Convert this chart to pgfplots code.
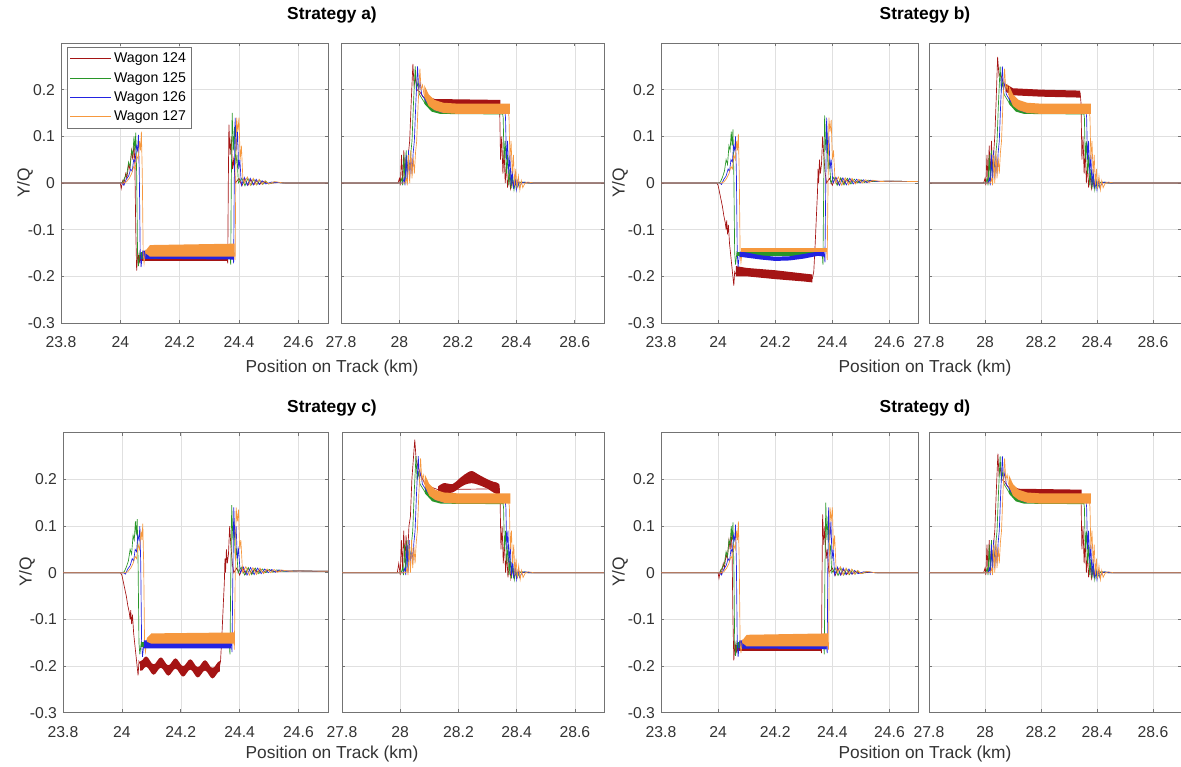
\documentclass[border=0pt]{standalone}
\usepackage{fontspec}
\setmainfont{Liberation Sans}
\usepackage{pgfplots}
\pgfplotsset{compat=1.18}
\definecolor{c124}{RGB}{165,20,20}
\definecolor{c125}{RGB}{40,150,40}
\definecolor{c126}{RGB}{35,35,225}
\definecolor{c127}{RGB}{246,152,62}
\pgfplotsset{
  base/.style={scale only axis, height=210pt, ymin=-0.3, ymax=0.3,
    ytick={-0.3,-0.2,-0.1,0,0.1,0.2},
    grid=major, major grid style={line width=0.4pt, black!12},
    axis line style={line width=0.6pt, black!55},
    tick style={black!55, line width=0.5pt},
    tick align=inside, major tick length=2.5pt,
    ticklabel style={font=\fontsize{11.8}{13}\selectfont, text=black!80},
    xticklabel style={yshift=-6.5pt},
    yticklabel style={xshift=-1pt},
    /pgf/number format/assume math mode=true,
    every axis plot/.append style={line width=0.5pt, forget plot},
  },
  leftp/.style={base, xmin=23.8, xmax=24.7, xtick={23.8,24,24.2,24.4,24.6}},
  rightp/.style={base, xmin=27.8, xmax=28.7, xtick={27.8,28,28.2,28.4,28.6}, yticklabels={}},
}
% ---------- left panel lines, strategies a and d ----------
\newcommand{\LeftRedA}{%
\addplot[c124] coordinates {(23.8,0)(24.0,0)(24.003,-0.012)(24.008,0.005)(24.012,-0.002)(24.018,0.02)(24.022,0.01)(24.028,0.04)(24.032,0.03)(24.038,0.07)(24.042,0.05)(24.046,0.085)(24.049,0.04)(24.052,-0.1)(24.055,-0.188)(24.059,-0.15)(24.064,-0.17)(24.07,-0.16)(24.36,-0.162)(24.362,-0.172)(24.364,0.0)(24.366,0.125)(24.37,0.06)(24.374,0.1)(24.378,0.03)(24.382,0.05)(24.388,0.0)(24.4,0.01)(24.41,-0.006)(24.42,0.009)(24.43,-0.005)(24.44,0.007)(24.45,-0.004)(24.46,0.005)(24.47,-0.003)(24.48,0.003)(24.5,-0.001)(24.53,0.001)(24.56,0)(24.7,0)};
\addplot[fill=c124, draw=none] coordinates {(24.06,-0.155)(24.36,-0.155)(24.36,-0.168)(24.06,-0.168)} -- cycle;
}
\newcommand{\LeftOthersA}{%
\addplot[c125] coordinates {(23.8,0)(24.0,0)(24.008,0.002)(24.015,0.012)(24.022,0.02)(24.028,0.045)(24.033,0.035)(24.038,0.07)(24.042,0.06)(24.046,0.1)(24.049,0.07)(24.052,0.108)(24.055,0.02)(24.058,-0.15)(24.061,-0.178)(24.066,-0.148)(24.072,-0.16)(24.37,-0.158)(24.372,-0.175)(24.374,0.0)(24.377,0.15)(24.381,0.07)(24.385,0.12)(24.389,0.04)(24.393,0.06)(24.398,0.0)(24.41,0.01)(24.42,-0.006)(24.43,0.01)(24.44,-0.005)(24.45,0.008)(24.46,-0.004)(24.47,0.006)(24.48,-0.003)(24.49,0.004)(24.5,-0.002)(24.52,0.002)(24.55,0)(24.7,0)};
\addplot[fill=c125, draw=none] coordinates {(24.068,-0.148)(24.37,-0.148)(24.37,-0.162)(24.068,-0.162)} -- cycle;
\addplot[c126] coordinates {(23.8,0)(24.005,0)(24.012,-0.005)(24.02,0.008)(24.028,0.015)(24.035,0.03)(24.04,0.025)(24.045,0.05)(24.05,0.045)(24.054,0.08)(24.058,0.07)(24.061,0.103)(24.064,0.02)(24.067,-0.15)(24.07,-0.18)(24.075,-0.148)(24.082,-0.162)(24.38,-0.158)(24.382,-0.172)(24.384,0.0)(24.387,0.14)(24.391,0.07)(24.395,0.11)(24.399,0.03)(24.403,0.05)(24.408,-0.005)(24.418,0.012)(24.428,-0.005)(24.438,0.01)(24.448,-0.004)(24.458,0.008)(24.468,-0.003)(24.478,0.005)(24.49,-0.002)(24.51,0.002)(24.55,0)(24.7,0)};
\addplot[fill=c126, draw=none] coordinates {(24.075,-0.145)(24.38,-0.15)(24.38,-0.164)(24.075,-0.162)} -- cycle;
\addplot[c127] coordinates {(23.8,0)(24.01,0)(24.02,0.002)(24.03,0.01)(24.038,0.02)(24.045,0.035)(24.05,0.03)(24.055,0.06)(24.06,0.05)(24.065,0.09)(24.068,0.07)(24.071,0.11)(24.074,0.02)(24.077,-0.15)(24.08,-0.172)(24.085,-0.145)(24.09,-0.152)(24.385,-0.15)(24.387,-0.165)(24.389,0.0)(24.392,0.14)(24.396,0.11)(24.4,0.14)(24.404,0.05)(24.408,0.08)(24.413,0.01)(24.418,0.0)(24.428,0.013)(24.438,-0.005)(24.448,0.01)(24.458,-0.004)(24.468,0.008)(24.478,-0.003)(24.488,0.005)(24.5,-0.002)(24.52,0.003)(24.55,0)(24.7,0)};
\addplot[fill=c127, draw=none] coordinates {(24.085,-0.145)(24.1,-0.133)(24.385,-0.13)(24.385,-0.158)(24.1,-0.158)(24.085,-0.15)} -- cycle;
}
% ---------- left panel lines, strategies b and c ----------
\newcommand{\LeftRedB}{%
\addplot[c124] coordinates {(23.8,0)(23.995,0)(24.0,-0.005)(24.005,-0.02)(24.01,-0.035)(24.015,-0.05)(24.02,-0.07)(24.025,-0.085)(24.028,-0.1)(24.03,-0.08)(24.033,-0.11)(24.036,-0.09)(24.04,-0.13)(24.045,-0.16)(24.05,-0.19)(24.055,-0.22)(24.058,-0.19)(24.062,-0.195)(24.33,-0.205)(24.335,-0.19)(24.34,-0.13)(24.345,-0.06)(24.348,-0.02)(24.35,0.03)(24.352,0.0)(24.355,0.05)(24.358,0.02)(24.362,0.04)(24.366,0.1)(24.37,0.06)(24.375,0.02)(24.38,0.0)(24.39,0.01)(24.4,-0.005)(24.41,0.012)(24.42,-0.003)(24.43,0.01)(24.44,-0.002)(24.45,0.008)(24.46,0.0)(24.47,0.007)(24.48,0.001)(24.5,0.006)(24.52,0.002)(24.55,0.004)(24.7,0.003)};
}
\newcommand{\LeftOthersBLines}{%
\addplot[c125] coordinates {(23.8,0)(24.0,0)(24.008,0.002)(24.015,0.012)(24.022,0.025)(24.028,0.05)(24.033,0.04)(24.038,0.08)(24.042,0.07)(24.046,0.11)(24.049,0.08)(24.052,0.115)(24.055,0.02)(24.058,-0.15)(24.061,-0.175)(24.066,-0.148)(24.072,-0.155)(24.365,-0.153)(24.367,-0.175)(24.37,0.0)(24.373,0.145)(24.377,0.07)(24.381,0.11)(24.385,0.03)(24.389,0.05)(24.395,0.0)(24.405,0.012)(24.417,-0.005)(24.429,0.011)(24.441,-0.004)(24.453,0.01)(24.465,-0.002)(24.477,0.008)(24.489,0.0)(24.501,0.007)(24.513,0.001)(24.525,0.006)(24.55,0.003)(24.6,0.004)(24.7,0.003)};
\addplot[c126] coordinates {(23.8,0)(24.005,0)(24.012,-0.003)(24.02,0.008)(24.028,0.015)(24.035,0.03)(24.04,0.025)(24.045,0.05)(24.05,0.045)(24.054,0.08)(24.058,0.07)(24.061,0.1)(24.064,0.02)(24.067,-0.15)(24.07,-0.18)(24.075,-0.15)(24.08,-0.155)(24.372,-0.152)(24.374,-0.17)(24.377,0.0)(24.38,0.14)(24.384,0.07)(24.388,0.1)(24.392,0.03)(24.396,0.05)(24.402,0.0)(24.413,0.012)(24.425,-0.005)(24.437,0.011)(24.449,-0.004)(24.461,0.01)(24.473,-0.002)(24.485,0.008)(24.497,0.0)(24.509,0.007)(24.521,0.001)(24.533,0.006)(24.56,0.003)(24.6,0.004)(24.7,0.003)};
\addplot[c127] coordinates {(23.8,0)(24.01,0)(24.02,0.002)(24.03,0.01)(24.038,0.02)(24.045,0.035)(24.05,0.03)(24.055,0.06)(24.06,0.05)(24.065,0.09)(24.068,0.07)(24.071,0.105)(24.074,0.02)(24.077,-0.15)(24.08,-0.17)(24.085,-0.143)(24.09,-0.145)(24.38,-0.145)(24.382,-0.165)(24.385,0.0)(24.388,0.14)(24.392,0.11)(24.396,0.135)(24.4,0.05)(24.404,0.07)(24.41,0.0)(24.421,0.013)(24.433,-0.005)(24.445,0.011)(24.457,-0.004)(24.469,0.01)(24.481,-0.002)(24.493,0.008)(24.505,0.0)(24.517,0.007)(24.529,0.001)(24.541,0.006)(24.57,0.003)(24.6,0.004)(24.7,0.003)};
}
% ---------- right panel lines (shared) ----------
\newcommand{\RightOthers}{%
\addplot[c125] coordinates {(27.8,0)(28.003,0)(28.008,0.01)(28.011,-0.005)(28.015,0.06)(28.019,0.0)(28.023,0.07)(28.027,0.01)(28.031,0.055)(28.035,0.02)(28.039,0.065)(28.043,0.09)(28.048,0.17)(28.054,0.25)(28.058,0.2)(28.063,0.215)(28.068,0.19)(28.078,0.18)(28.09,0.168)(28.11,0.16)(28.14,0.155)(28.352,0.153)(28.355,0.14)(28.358,0.05)(28.362,0.09)(28.366,0.02)(28.37,0.06)(28.374,-0.005)(28.378,0.03)(28.382,-0.012)(28.387,0.015)(28.392,-0.015)(28.397,0.005)(28.402,-0.01)(28.41,0.0)(28.42,0.002)(28.44,0)(28.7,0)};
\addplot[fill=c125, draw=none] coordinates {(28.085,0.185)(28.11,0.165)(28.14,0.158)(28.355,0.158)(28.355,0.147)(28.14,0.148)(28.11,0.153)(28.085,0.17)} -- cycle;
\addplot[c126] coordinates {(27.8,0)(28.011,0)(28.016,0.01)(28.019,-0.005)(28.023,0.06)(28.027,0.0)(28.031,0.07)(28.035,0.01)(28.039,0.055)(28.043,0.02)(28.047,0.065)(28.051,0.09)(28.056,0.17)(28.062,0.25)(28.066,0.2)(28.071,0.215)(28.076,0.19)(28.086,0.18)(28.098,0.17)(28.12,0.162)(28.15,0.158)(28.36,0.157)(28.363,0.14)(28.366,0.05)(28.37,0.09)(28.374,0.02)(28.378,0.06)(28.382,-0.005)(28.386,0.03)(28.39,-0.012)(28.395,0.015)(28.4,-0.015)(28.405,0.005)(28.41,-0.01)(28.418,0.0)(28.428,0.002)(28.45,0)(28.7,0)};
\addplot[fill=c126, draw=none] coordinates {(28.09,0.195)(28.12,0.17)(28.15,0.163)(28.365,0.162)(28.365,0.15)(28.15,0.15)(28.12,0.156)(28.09,0.175)} -- cycle;
\addplot[c127] coordinates {(27.8,0)(28.019,0)(28.024,0.01)(28.027,-0.005)(28.031,0.06)(28.035,0.0)(28.039,0.07)(28.043,0.01)(28.047,0.055)(28.051,0.02)(28.055,0.065)(28.059,0.09)(28.064,0.17)(28.07,0.245)(28.074,0.2)(28.079,0.21)(28.084,0.19)(28.094,0.18)(28.106,0.172)(28.13,0.165)(28.16,0.16)(28.372,0.158)(28.375,0.14)(28.378,0.05)(28.382,0.09)(28.386,0.02)(28.39,0.06)(28.394,-0.005)(28.398,0.03)(28.402,-0.012)(28.407,0.015)(28.412,-0.015)(28.417,0.005)(28.422,-0.01)(28.43,0.0)(28.44,0.002)(28.46,0)(28.7,0)};
\addplot[fill=c127, draw=none] coordinates {(28.085,0.21)(28.1,0.19)(28.12,0.178)(28.15,0.172)(28.2,0.17)(28.378,0.17)(28.378,0.148)(28.2,0.148)(28.15,0.15)(28.12,0.156)(28.1,0.165)(28.085,0.185)} -- cycle;
}
\newcommand{\RightRedA}{%
\addplot[c124] coordinates {(27.8,0)(27.995,0)(28.0,0.01)(28.003,-0.005)(28.007,0.06)(28.011,0.0)(28.015,0.07)(28.019,0.01)(28.023,0.055)(28.027,0.02)(28.031,0.065)(28.035,0.09)(28.04,0.17)(28.046,0.255)(28.05,0.21)(28.055,0.225)(28.06,0.2)(28.07,0.195)(28.08,0.185)(28.1,0.18)(28.13,0.176)(28.34,0.175)(28.343,0.16)(28.346,0.05)(28.35,0.1)(28.354,0.02)(28.358,0.07)(28.362,0.0)(28.366,0.04)(28.37,-0.01)(28.375,0.02)(28.38,-0.012)(28.385,0.008)(28.39,-0.01)(28.4,0.0)(28.41,0.002)(28.43,0)(28.7,0)};
\addplot[fill=c124, draw=none] coordinates {(28.09,0.188)(28.12,0.18)(28.345,0.178)(28.345,0.166)(28.12,0.168)(28.09,0.176)} -- cycle;
}
\begin{document}
\begin{tikzpicture}
\useasboundingbox (0,0) rectangle (885.75pt,575.25pt);
% ===== Strategy a =====
\begin{axis}[leftp, width=200.25pt, at={(45.75pt,333pt)}, anchor=south west,
  legend style={at={(0,1)}, anchor=north west, xshift=4.2pt, yshift=-3.2pt, draw=black!55, fill=white,
    font=\fontsize{10.6}{12}\selectfont, inner sep=2pt, row sep=1.6pt, cells={anchor=west}},
  legend image code/.code={\draw[#1, line width=0.7pt] (0pt,0pt) -- (30.75pt,0pt);}]
\LeftRedA
\LeftOthersA
\addlegendimage{c124}\addlegendentry{Wagon 124}
\addlegendimage{c125}\addlegendentry{Wagon 125}
\addlegendimage{c126}\addlegendentry{Wagon 126}
\addlegendimage{c127}\addlegendentry{Wagon 127}
\end{axis}
\begin{axis}[rightp, width=197.25pt, at={(255.75pt,333pt)}, anchor=south west]
\RightRedA
\RightOthers
\end{axis}
% ===== Strategy b =====
\begin{axis}[leftp, width=192.75pt, at={(495.75pt,333pt)}, anchor=south west]
\LeftRedB
\addplot[fill=c124, draw=none] coordinates {(24.062,-0.178)(24.1,-0.182)(24.2,-0.187)(24.3,-0.194)(24.33,-0.196)(24.33,-0.213)(24.3,-0.211)(24.2,-0.206)(24.1,-0.2)(24.062,-0.2)} -- cycle;
\LeftOthersBLines
\addplot[fill=c125, draw=none] coordinates {(24.065,-0.148)(24.365,-0.148)(24.365,-0.156)(24.065,-0.156)} -- cycle;
\addplot[fill=c126, draw=none] coordinates {(24.075,-0.147)(24.1,-0.149)(24.15,-0.155)(24.2,-0.158)(24.25,-0.157)(24.3,-0.152)(24.35,-0.147)(24.372,-0.148)(24.372,-0.158)(24.35,-0.156)(24.3,-0.162)(24.25,-0.166)(24.2,-0.167)(24.15,-0.164)(24.1,-0.16)(24.075,-0.158)} -- cycle;
\addplot[fill=c127, draw=none] coordinates {(24.08,-0.14)(24.38,-0.14)(24.38,-0.148)(24.08,-0.148)} -- cycle;
\end{axis}
\begin{axis}[rightp, width=189pt, at={(696.75pt,333pt)}, anchor=south west]
\addplot[c124] coordinates {(27.8,0)(27.995,0)(28.0,0.01)(28.003,-0.005)(28.007,0.06)(28.011,0.0)(28.015,0.08)(28.019,0.01)(28.023,0.09)(28.027,0.02)(28.031,0.065)(28.035,0.1)(28.04,0.18)(28.045,0.27)(28.05,0.23)(28.055,0.235)(28.065,0.215)(28.08,0.2)(28.34,0.193)(28.343,0.17)(28.346,0.05)(28.35,0.1)(28.354,0.02)(28.358,0.07)(28.362,0.0)(28.366,0.04)(28.37,-0.01)(28.375,0.02)(28.38,-0.012)(28.385,0.008)(28.39,-0.01)(28.4,0.0)(28.41,0.002)(28.43,0)(28.7,0)};
\addplot[fill=c124, draw=none] coordinates {(28.075,0.212)(28.1,0.203)(28.2,0.2)(28.34,0.198)(28.34,0.183)(28.2,0.185)(28.1,0.188)(28.075,0.195)} -- cycle;
\RightOthers
\end{axis}
% ===== Strategy c =====
\begin{axis}[leftp, width=198.75pt, at={(47.25pt,40.7pt)}, anchor=south west]
\LeftRedB
\addplot[fill=c124, draw=none] coordinates {(24.062,-0.19)(24.07,-0.187)(24.07625,-0.1816)(24.0825,-0.1795)(24.08875,-0.1821)(24.095,-0.188)(24.10125,-0.1939)(24.1075,-0.1965)(24.11375,-0.1944)(24.12,-0.189)(24.12625,-0.1836)(24.1325,-0.1815)(24.13875,-0.1841)(24.145,-0.19)(24.15125,-0.1959)(24.1575,-0.1985)(24.16375,-0.1964)(24.17,-0.191)(24.17625,-0.1856)(24.1825,-0.1835)(24.18875,-0.1861)(24.195,-0.192)(24.20125,-0.1979)(24.2075,-0.2005)(24.21375,-0.1984)(24.22,-0.193)(24.22625,-0.1876)(24.2325,-0.1855)(24.23875,-0.1881)(24.245,-0.194)(24.25125,-0.1999)(24.2575,-0.2025)(24.26375,-0.2004)(24.27,-0.195)(24.27625,-0.1896)(24.2825,-0.1875)(24.28875,-0.1901)(24.295,-0.196)(24.30125,-0.2019)(24.3075,-0.2045)(24.31375,-0.2024)(24.32,-0.197)(24.32625,-0.1916)(24.3325,-0.1895)(24.3325,-0.2115)(24.32625,-0.2136)(24.32,-0.219)(24.31375,-0.2244)(24.3075,-0.2265)(24.30125,-0.2239)(24.295,-0.218)(24.28875,-0.2121)(24.2825,-0.2095)(24.27625,-0.2116)(24.27,-0.217)(24.26375,-0.2224)(24.2575,-0.2245)(24.25125,-0.2219)(24.245,-0.216)(24.23875,-0.2101)(24.2325,-0.2075)(24.22625,-0.2096)(24.22,-0.215)(24.21375,-0.2204)(24.2075,-0.2225)(24.20125,-0.2199)(24.195,-0.214)(24.18875,-0.2081)(24.1825,-0.2055)(24.17625,-0.2076)(24.17,-0.213)(24.16375,-0.2184)(24.1575,-0.2205)(24.15125,-0.2179)(24.145,-0.212)(24.13875,-0.2061)(24.1325,-0.2035)(24.12625,-0.2056)(24.12,-0.211)(24.11375,-0.2164)(24.1075,-0.2185)(24.10125,-0.2159)(24.095,-0.21)(24.08875,-0.2041)(24.0825,-0.2015)(24.07625,-0.2036)(24.07,-0.209)(24.062,-0.21)} -- cycle;
\LeftOthersBLines
\addplot[fill=c125, draw=none] coordinates {(24.065,-0.148)(24.365,-0.148)(24.365,-0.16)(24.065,-0.16)} -- cycle;
\addplot[fill=c126, draw=none] coordinates {(24.075,-0.145)(24.372,-0.148)(24.372,-0.162)(24.075,-0.162)} -- cycle;
\addplot[fill=c127, draw=none] coordinates {(24.085,-0.14)(24.1,-0.13)(24.38,-0.128)(24.38,-0.152)(24.1,-0.152)(24.085,-0.148)} -- cycle;
\end{axis}
\begin{axis}[rightp, width=196.5pt, at={(256.5pt,40.7pt)}, anchor=south west]
\addplot[c124] coordinates {(27.8,0)(27.99,0)(27.995,0.02)(28.0,-0.005)(28.004,0.07)(28.008,0.01)(28.012,0.09)(28.016,0.02)(28.02,0.08)(28.025,0.03)(28.03,0.1)(28.035,0.12)(28.04,0.2)(28.05,0.285)(28.055,0.24)(28.06,0.23)(28.07,0.21)(28.085,0.19)(28.1,0.185)(28.13,0.178)(28.34,0.18)(28.343,0.16)(28.346,0.05)(28.35,0.1)(28.354,0.02)(28.358,0.07)(28.362,0.0)(28.366,0.04)(28.37,-0.01)(28.375,0.02)(28.38,-0.012)(28.385,0.008)(28.39,-0.01)(28.4,0.0)(28.41,0.002)(28.43,0)(28.7,0)};
\addplot[fill=c124, draw=none, smooth, tension=0.5] coordinates {(28.13,0.185)(28.15,0.192)(28.18,0.19)(28.2,0.2)(28.22,0.21)(28.245,0.218)(28.27,0.21)(28.3,0.2)(28.32,0.195)(28.34,0.19)(28.34,0.168)(28.32,0.172)(28.3,0.18)(28.27,0.188)(28.245,0.192)(28.22,0.188)(28.2,0.18)(28.18,0.172)(28.15,0.17)(28.13,0.168)} -- cycle;
\RightOthers
\end{axis}
% ===== Strategy d =====
\begin{axis}[leftp, width=192.75pt, at={(495.75pt,40.7pt)}, anchor=south west]
\LeftRedA
\LeftOthersA
\end{axis}
\begin{axis}[rightp, width=189pt, at={(696.75pt,40.7pt)}, anchor=south west]
\RightRedA
\RightOthers
\end{axis}
% ===== titles and labels =====
\node[font=\bfseries\fontsize{13}{15}\selectfont] at (249pt,564pt) {Strategy a)};
\node[font=\bfseries\fontsize{13}{15}\selectfont] at (693.75pt,564pt) {Strategy b)};
\node[font=\bfseries\fontsize{13}{15}\selectfont] at (249pt,269.25pt) {Strategy c)};
\node[font=\bfseries\fontsize{13}{15}\selectfont] at (693.75pt,269.25pt) {Strategy d)};
\node[font=\fontsize{13}{15}\selectfont, text=black!80] at (249pt,299.25pt) {Position on Track (km)};
\node[font=\fontsize{13}{15}\selectfont, text=black!80] at (693.75pt,299.25pt) {Position on Track (km)};
\node[font=\fontsize{13}{15}\selectfont, text=black!80] at (249pt,10pt) {Position on Track (km)};
\node[font=\fontsize{13}{15}\selectfont, text=black!80] at (693.75pt,10pt) {Position on Track (km)};
\node[font=\fontsize{13}{15}\selectfont, text=black!80, rotate=90] at (18.75pt,438pt) {Y/Q};
\node[font=\fontsize{13}{15}\selectfont, text=black!80, rotate=90] at (465pt,438pt) {Y/Q};
\node[font=\fontsize{13}{15}\selectfont, text=black!80, rotate=90] at (20.25pt,146.25pt) {Y/Q};
\node[font=\fontsize{13}{15}\selectfont, text=black!80, rotate=90] at (465pt,146.25pt) {Y/Q};
\end{tikzpicture}
\end{document}
